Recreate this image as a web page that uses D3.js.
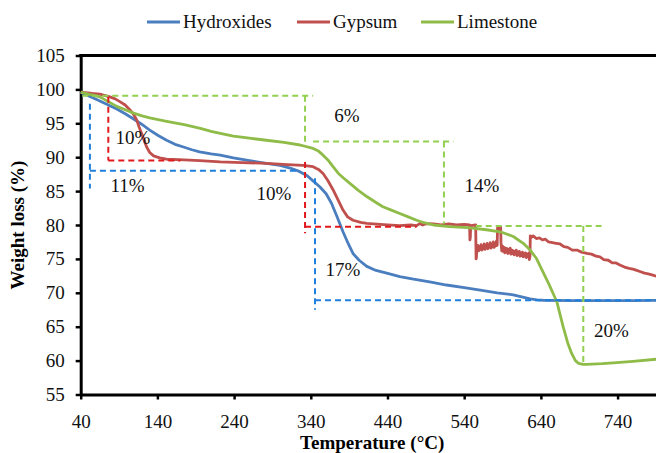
<!DOCTYPE html>
<html>
<head>
<meta charset="utf-8">
<script src="https://cdn.jsdelivr.net/npm/d3@7"></script>
<style>
  html, body { margin: 0; padding: 0; background: #fff; }
  svg { display: block; font-family: "Liberation Serif", "Times New Roman", serif; }
</style>
</head>
<body>
<div id="chart"></div>
<script>
// --- data: [temperature (°C), weight (%)] ---
const hydroxides = [
  [40,99.6],[43,99.4],[55,98.8],[65,98.3],[76,97.7],[87,97.1],[98,96.4],[108,95.7],[119,94.9],
  [130,94.0],[141,93.2],[152,92.5],[163,91.9],[174,91.5],[185,91.1],[195,90.8],[210,90.5],[222,90.3],
  [239,89.9],[260,89.5],[282,89.1],[300,88.8],[313,88.4],[325,87.9],[335,87.3],[344,86.4],[352,85.6],
  [360,84.6],[367,83.2],[374,81.3],[382,79.0],[389,77.2],[395,75.8],[403,74.8],[413,73.9],[425,73.3],
  [439,72.9],[456,72.4],[474,72.0],[495,71.6],[517,71.15],[540,70.75],[561,70.4],[583,70.0],[604,69.7],
  [615,69.4],[626,69.1],[635,68.95],[643,68.9],[680,68.85],[720,68.85],[760,68.85],[795,68.9]
];
const gypsum = [
  [40,99.6],[55,99.4],[65,99.3],[78,98.9],[85,98.6],[91,98.2],[98,97.7],[104,97.0],[109,96.3],
  [113,95.5],[116,94.5],[119.5,93.5],[123,92.4],[126,91.5],[130,90.7],[135,90.2],[143,89.9],[152,89.7],
  [175,89.6],[195,89.5],[222,89.3],[250,89.2],[282,89.1],[310,88.9],[330,88.8],[343,88.6],[350,88.2],
  [356,87.6],[362,86.6],[369,85.2],[376,83.6],[382,82.2],[388,81.2],[395,80.7],[405,80.4],[413,80.25],
  [435,80.05],[456,79.9],[470,80.0],[478,79.9],[482,80.2],[486,80.0],[490,80.2],[500,80.15],[510,80.0],
  [520,80.15],[530,80.0],[540,80.1],[547,80.0],
  [547.5,77.8],[548,78.2],[548.5,79.9],[555,80.0],[555.5,75.0],[556,75.3],[556.5,76.9],[557,76.3],
  [558,77.0],[559,76.2],[560,76.8],[561,76.4],[562,77.1],[563,76.3],[564,76.9],[565,76.5],[566,77.2],
  [567,76.4],[568,76.9],[569,76.6],[570,77.3],[571,76.5],[572,77.0],[573,76.7],[574,77.4],[575,76.6],
  [576,77.0],[577,76.8],[578,77.5],[579,76.7],[580,77.2],[581,76.9],[582,77.6],[583,77.0],[583.5,79.6],
  [584.5,79.2],[585.5,79.8],[586.5,79.1],[587.5,79.7],[588,77.4],[589,76.2],[590,76.9],[591,76.1],
  [592,76.7],[593,75.9],[594,76.6],[595,76.0],[596,76.5],[597,75.8],[598,76.4],[599,75.9],[600,76.6],
  [601,75.7],[602,76.3],[603,75.8],[604,76.2],[605,75.6],[606,76.1],[607,75.7],[608,76.3],[609,75.5],
  [610,76.0],[611,75.6],[612,76.1],[613,75.4],[614,75.9],[615,75.5],[616,76.0],[617,75.3],[618,75.8],
  [619,75.4],[620,75.9],[621,75.2],[622,75.7],[623,75.3],[624,75.8],[625,74.9],[625.8,75.4],
  [626.2,78.4],[628,78.2],[630,78.4],[634,78.0],[638,78.1],[642,77.8],[646,77.9],[650,77.5],[655,77.4],
  [660,77.3],[665,77.2],[670,76.8],[675,76.7],[681,76.3],[687,76.3],[693,76.0],[700,75.8],[706,75.7],
  [712,75.4],[717,75.3],[722,74.9],[728,74.8],[733,74.4],[738,74.4],[743,74.1],[749,73.8],[755,73.6],
  [760,73.5],[765,73.3],[770,73.1],[775,72.9],[780,72.8],[786,72.6],[795,72.3]
];
const limestone = [
  [40,99.6],[50,99.3],[65,98.9],[76,98.2],[87,97.5],[98,97.0],[109,96.5],[120,96.1],[130,95.8],
  [152,95.3],[175,94.8],[196,94.25],[210,93.8],[222,93.5],[239,93.1],[260,92.8],[282,92.5],[305,92.2],
  [326,91.8],[343,91.3],[350,90.9],[356,90.3],[363,89.5],[369,88.6],[376,87.6],[383,86.9],[391,86.15],
  [402,85.1],[413,84.2],[424,83.4],[434,82.7],[445,82.2],[456,81.7],[467,81.2],[478,80.7],[489,80.3],
  [500,80.0],[521,79.75],[545,79.6],[569,79.3],[587,79.0],[604,78.3],[617,77.3],[626,76.3],[634,75.1],
  [643,73.0],[650,71.4],[656,69.9],[661,68.6],[669,65.0],[675,62.6],[680,61.1],[685,60.0],[689,59.6],
  [695,59.45],[700,59.45],[720,59.55],[739,59.7],[760,59.9],[795,60.25]
];

// dashed guide lines (polylines in data units)
const hydroxidesGuides = [
  [[52,97.9],[52,85.4]], [[52,88.0],[326,88.0]],
  [[345.5,86.9],[345.5,67.5]], [[345.5,68.9],[800,68.9]]
];
const gypsumGuides = [
  [[76,98.9],[76,89.5]], [[76,89.5],[170,89.5]],
  [[332.5,89.3],[332.5,78.8]], [[332.5,79.75],[478,79.75]]
];
const limestoneGuides = [
  [[42,99.07],[343,99.07]], [[332.5,99.07],[332.5,92.0]],
  [[343,92.3],[526,92.3]], [[513.6,92.3],[513.6,80.2]],
  [[555,79.85],[719,79.85]], [[695.3,79.85],[695.3,59.6]]
];

const lossLabels = ['10%', '11%', '6%', '10%', '14%', '17%', '20%'];
const lossLabelT = [108, 101, 387, 292, 563, 382, 732];
const lossLabelW = [93.0, 85.9, 96.2, 84.7, 85.9, 73.4, 64.5];

const seriesNames = ['Hydroxides', 'Gypsum', 'Limestone'];
const xTicks = [40, 140, 240, 340, 440, 540, 640, 740];
const yTicks = [55, 60, 65, 70, 75, 80, 85, 90, 95, 100, 105];

const lineColors = ['#4a7ebf', '#c0504d', '#8fbc48'];
const guideColors = ['#1f7fdc', '#e0191c', '#92d050'];

const W = 656, H = 453;
const x = d3.scaleLinear().domain([40, 800]).range([80.7, 663.6]);
const y = d3.scaleLinear().domain([55, 105]).range([394.5, 55.5]);

const svg = d3.select('#chart').append('svg')
  .attr('width', W).attr('height', H)
  .attr('viewBox', [0, 0, W, H]);

// axes
const gx = svg.append('g')
  .attr('transform', `translate(0,${y(55)})`)
  .call(d3.axisBottom(x).tickValues(xTicks).tickSize(5).tickSizeOuter(0).tickPadding(10));
const gy = svg.append('g')
  .attr('transform', `translate(${x(40)},0)`)
  .call(d3.axisLeft(y).tickValues(yTicks).tickSize(5).tickSizeOuter(0).tickPadding(11));

[gx, gy].forEach(g => {
  g.select('.domain').attr('stroke', '#000').attr('stroke-width', 3);
  g.selectAll('.tick line').attr('stroke', '#000').attr('stroke-width', 2.5);
  g.selectAll('.tick text')
    .attr('fill', '#111')
    .style('font-family', '"Liberation Serif", "Times New Roman", serif')
    .style('font-size', '19px');
});
gx.selectAll('.tick text').attr('dy', '0.95em');

// top frame line at 105
svg.append('line')
  .attr('x1', x(40) - 1.5).attr('x2', W)
  .attr('y1', y(105)).attr('y2', y(105))
  .attr('stroke', '#000').attr('stroke-width', 3);

const line = d3.line().x(d => x(d[0])).y(d => y(d[1]));

const plot = svg.append('g');

// curves
[hydroxides, gypsum, limestone].forEach((data, i) => {
  plot.append('path')
    .datum(data)
    .attr('d', line)
    .attr('fill', 'none')
    .attr('stroke', lineColors[i])
    .attr('stroke-width', 2.8)
    .attr('stroke-linejoin', 'round');
});

// dashed guides
[hydroxidesGuides, gypsumGuides, limestoneGuides].forEach((guides, i) => {
  plot.append('g').selectAll('path')
    .data(guides)
    .join('path')
    .attr('d', line)
    .attr('fill', 'none')
    .attr('stroke', guideColors[i])
    .attr('stroke-width', 2)
    .attr('stroke-dasharray', '6,4');
});

// percentage labels
svg.append('g').selectAll('text')
  .data(lossLabels)
  .join('text')
  .attr('x', (d, i) => x(lossLabelT[i]))
  .attr('y', (d, i) => y(lossLabelW[i]))
  .attr('dy', '0.35em')
  .attr('text-anchor', 'middle')
  .attr('fill', '#111')
  .style('font-size', '19px')
  .text(d => d);

// axis titles
svg.append('text')
  .attr('x', (x.range()[0] + x.range()[1]) / 2)
  .attr('y', 449)
  .attr('text-anchor', 'middle')
  .style('font-size', '19px')
  .style('font-weight', 'bold')
  .text('Temperature (°C)');

svg.append('text')
  .attr('transform', `translate(24,${(y(55) + y(105)) / 2}) rotate(-90)`)
  .attr('text-anchor', 'middle')
  .style('font-size', '19px')
  .style('font-weight', 'bold')
  .text('Weight loss (%)');

// legend
const legendX = [147, 297, 421];
const legend = svg.append('g').selectAll('g')
  .data(seriesNames)
  .join('g')
  .attr('transform', (d, i) => `translate(${legendX[i]},22)`);
legend.append('line')
  .attr('x1', 0).attr('x2', 33)
  .attr('stroke', (d, i) => lineColors[i])
  .attr('stroke-width', 3);
legend.append('text')
  .attr('x', 36)
  .attr('dy', '0.32em')
  .attr('fill', '#111')
  .style('font-size', '19px')
  .text(d => d);
</script>
</body>
</html>
